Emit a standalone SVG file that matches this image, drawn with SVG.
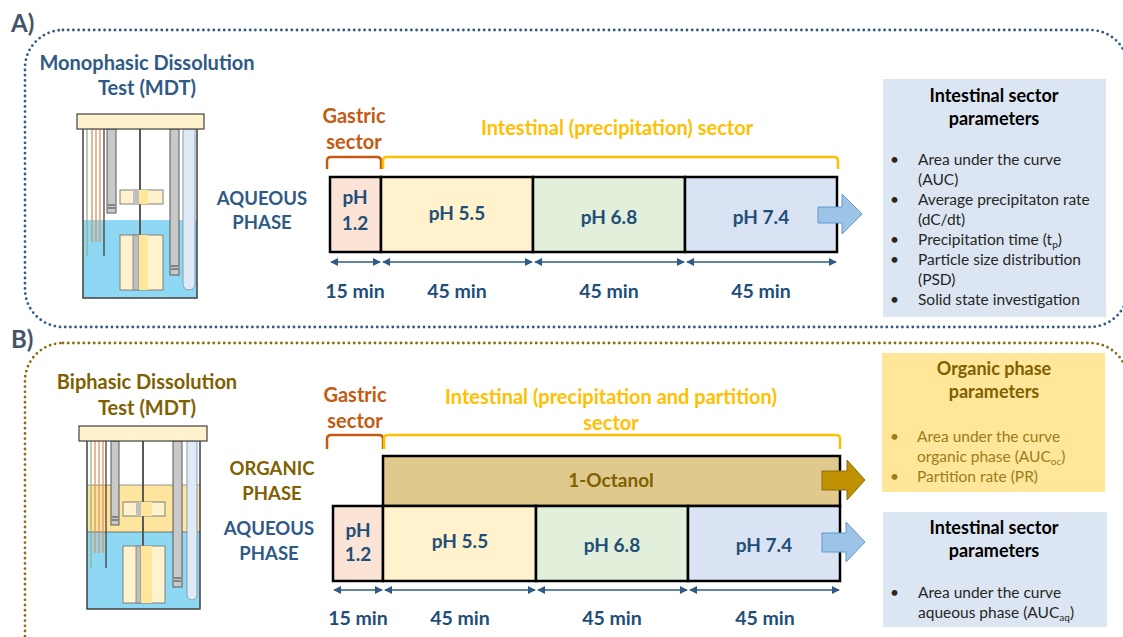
<svg xmlns="http://www.w3.org/2000/svg" width="1123" height="637" viewBox="0 0 1123 637">
  <style>
    text { font-family: Lato, "Open Sans", "Liberation Sans", sans-serif; font-weight: bold; }
    .lbl { font-size: 24px; fill: #44546a; }
    .blue { fill: #2f5a85; }
    .olive { fill: #806000; }
    .head { font-size: 20px; text-anchor: middle; }
    .phase { font-size: 18.5px; text-anchor: middle; }
    .ph { font-size: 19px; fill: #1f4e79; text-anchor: middle; }
    .min { font-size: 19.5px; fill: #1f4e79; text-anchor: middle; }
    .gas { font-size: 20px; fill: #c55a11; text-anchor: middle; }
    .int { font-size: 20px; fill: #ffc000; text-anchor: middle; }
    .ptitle { font-size: 18px; text-anchor: middle; fill: #000; }
    .bul text { font-size: 15.5px; font-weight: normal; fill: #262626; }
    .bulo text { font-size: 15.5px; font-weight: normal; fill: #9c7c1c; }
    .seg { stroke: #000; stroke-width: 2.5; }
    .dotA { fill: none; stroke: #2f5a85; stroke-width: 2.8; stroke-dasharray: 0 5.2; stroke-linecap: round; }
    .dotB { fill: none; stroke: #8b6b14; stroke-width: 2.8; stroke-dasharray: 0 5.2; stroke-linecap: round; }
    .dim { stroke: #2f5a85; stroke-width: 1.6; marker-start: url(#ah); marker-end: url(#ah); }
    .brG { fill: none; stroke: #c55a11; stroke-width: 2.5; }
    .brI { fill: none; stroke: #ffc000; stroke-width: 2.5; }
    .wall { fill: none; stroke: #404040; stroke-width: 1.5; }
    .lid { fill: #fff2cc; stroke: #404040; stroke-width: 1.2; }
    .blade { fill: #fff2cc; stroke: #7f7f7f; stroke-width: 1; }
    .tube { fill: #c9c9c9; stroke: #595959; stroke-width: 1; }
    .ltube { fill: #deebf7; stroke: #8a9bb0; stroke-width: 1; }
  </style>
  <defs>
    <marker id="ah" viewBox="0 0 10 10" refX="9" refY="5" markerWidth="5" markerHeight="5" orient="auto-start-reverse" markerUnits="strokeWidth">
      <path d="M0,0 L10,5 L0,10 z" fill="#2f5a85"/>
    </marker>
  </defs>

  <rect width="1123" height="637" fill="#ffffff"/>

  <!-- panel frames -->
  <rect class="dotA" x="25" y="30" width="1103" height="297" rx="38"/>
  <rect class="dotB" x="25" y="343" width="1103" height="330" rx="38"/>
  <text class="lbl" x="11" y="32">A)</text>
  <text class="lbl" x="11" y="348">B)</text>

  <!-- ===== Panel A ===== -->
  <g id="mdt-title">
    <text class="head blue" x="147" y="70">Monophasic Dissolution</text>
    <text class="head blue" x="147" y="95">Test (MDT)</text>
  </g>

  <g id="mdt-vessel">
    <rect x="83" y="220" width="114" height="78" fill="#8fd8f3"/>
    <path class="wall" d="M83,129 V298 H197 V129"/>
    <line x1="87" y1="129" x2="87" y2="256" stroke="#8fb48a" stroke-width="1.3"/>
    <line x1="92" y1="129" x2="92" y2="242" stroke="#e0915a" stroke-width="1.3"/>
    <line x1="96" y1="129" x2="96" y2="242" stroke="#e0915a" stroke-width="1.3"/>
    <line x1="100" y1="129" x2="100" y2="242" stroke="#e0915a" stroke-width="1.3"/>
    <line x1="104" y1="129" x2="104" y2="256" stroke="#404040" stroke-width="1.3"/>
    <rect class="tube" x="107" y="129" width="9" height="84"/>
    <line x1="108" y1="205" x2="115" y2="205" stroke="#404040" stroke-width="1"/>
    <line x1="108" y1="208" x2="115" y2="208" stroke="#404040" stroke-width="1"/>
    <line x1="140" y1="129" x2="140" y2="236" stroke="#595959" stroke-width="2"/>
    <rect class="blade" x="120" y="190" width="43" height="14"/>
    <rect x="133" y="190" width="6" height="14" fill="#bfbfbf"/>
    <rect x="139" y="190" width="9" height="14" fill="#ffe699"/>
    <rect class="blade" x="120" y="235" width="43" height="55"/>
    <rect x="133" y="235" width="6" height="55" fill="#bfbfbf" stroke="#7f7f7f" stroke-width="0.8"/>
    <rect x="139" y="235" width="9" height="55" fill="#ffe699"/>
    <rect class="tube" x="170" y="129" width="9" height="146"/>
    <line x1="171" y1="266" x2="178" y2="266" stroke="#404040" stroke-width="1"/>
    <line x1="171" y1="269" x2="178" y2="269" stroke="#404040" stroke-width="1"/>
    <path class="ltube" d="M183,129 V284 A6,6 0 0 0 195,284 V129 Z"/>
    <rect class="lid" x="77" y="114" width="127" height="15"/>
  </g>

  <g id="aqueous-label-a">
    <text class="phase blue" x="262" y="205">AQUEOUS</text>
    <text class="phase blue" x="262" y="229">PHASE</text>
  </g>

  <g id="sectors-a">
    <text class="gas" x="354" y="123">Gastric</text>
    <text class="gas" x="354" y="149">sector</text>
    <path class="brG" d="M327,169 V161 Q327,157 331,157 H377 Q381,157 381,161 V169"/>
    <text class="int" x="617" y="135">Intestinal (precipitation) sector</text>
    <path class="brI" d="M383,169 V161 Q383,157 387,157 H834 Q838,157 838,161 V169"/>
  </g>

  <g id="timeline-a">
    <rect class="seg" x="330" y="177" width="51" height="75" fill="#fbe3d6"/>
    <rect class="seg" x="381" y="177" width="152" height="75" fill="#fff2cc"/>
    <rect class="seg" x="533" y="177" width="152" height="75" fill="#e2efda"/>
    <rect class="seg" x="685" y="177" width="152" height="75" fill="#dae3f3"/>
    <text class="ph" x="355" y="204">pH</text>
    <text class="ph" x="355" y="230">1.2</text>
    <text class="ph" x="457" y="220">pH 5.5</text>
    <text class="ph" x="609" y="224">pH 6.8</text>
    <text class="ph" x="761" y="224">pH 7.4</text>
    <polygon points="818,207 842,207 842,194 862,214 842,234 842,223 818,223" fill="#9dc3e6" stroke="#5b9bd5" stroke-width="1"/>
  </g>

  <g id="durations-a">
    <line class="dim" x1="331" y1="262" x2="380" y2="262"/>
    <line class="dim" x1="383" y1="262" x2="532" y2="262"/>
    <line class="dim" x1="535" y1="262" x2="684" y2="262"/>
    <line class="dim" x1="687" y1="262" x2="836" y2="262"/>
    <text class="min" x="355" y="298">15 min</text>
    <text class="min" x="457" y="298">45 min</text>
    <text class="min" x="609" y="298">45 min</text>
    <text class="min" x="761" y="298">45 min</text>
  </g>

  <g id="params-a">
    <rect x="883" y="79" width="223" height="238" fill="#dce6f2"/>
    <text class="ptitle" x="994" y="102">Intestinal sector</text>
    <text class="ptitle" x="994" y="125">parameters</text>
    <g class="bul">
      <text x="890" y="165">•</text>
      <text x="918" y="165">Area under the curve</text>
      <text x="918" y="185">(AUC)</text>
      <text x="890" y="205">•</text>
      <text x="918" y="205">Average precipitaton rate</text>
      <text x="918" y="225">(dC/dt)</text>
      <text x="890" y="245">•</text>
      <text x="918" y="245">Precipitation time (t<tspan font-size="10" dy="3">p</tspan><tspan dy="-3">)</tspan></text>
      <text x="890" y="265">•</text>
      <text x="918" y="265">Particle size distribution</text>
      <text x="918" y="285">(PSD)</text>
      <text x="890" y="305">•</text>
      <text x="918" y="305">Solid state investigation</text>
    </g>
  </g>

  <!-- ===== Panel B ===== -->
  <g id="bdt-title">
    <text class="head olive" x="147" y="389">Biphasic Dissolution</text>
    <text class="head olive" x="147" y="415">Test (MDT)</text>
  </g>

  <g id="bdt-vessel">
    <rect x="87" y="485" width="113" height="47" fill="#fde59e"/>
    <rect x="87" y="532" width="113" height="77" fill="#8fd8f3"/>
    <line x1="87" y1="485" x2="200" y2="485" stroke="#7f7f7f" stroke-width="0.8"/>
    <line x1="87" y1="532" x2="200" y2="532" stroke="#595959" stroke-width="0.8"/>
    <path class="wall" d="M87,441 V609 H200 V441"/>
    <line x1="91" y1="441" x2="91" y2="568" stroke="#8fb48a" stroke-width="1.3"/>
    <line x1="95" y1="441" x2="95" y2="553" stroke="#e0915a" stroke-width="1.3"/>
    <line x1="99" y1="441" x2="99" y2="553" stroke="#e0915a" stroke-width="1.3"/>
    <line x1="103" y1="441" x2="103" y2="553" stroke="#e0915a" stroke-width="1.3"/>
    <line x1="106" y1="441" x2="106" y2="568" stroke="#404040" stroke-width="1.3"/>
    <rect class="tube" x="111" y="441" width="8" height="84"/>
    <line x1="112" y1="517" x2="118" y2="517" stroke="#404040" stroke-width="1"/>
    <line x1="112" y1="520" x2="118" y2="520" stroke="#404040" stroke-width="1"/>
    <line x1="143" y1="441" x2="143" y2="547" stroke="#595959" stroke-width="2"/>
    <rect class="blade" x="123" y="502" width="42" height="14"/>
    <rect x="136" y="502" width="5" height="14" fill="#bfbfbf"/>
    <rect x="141" y="502" width="11" height="14" fill="#ffe699"/>
    <rect class="blade" x="123" y="546" width="42" height="57"/>
    <rect x="136" y="546" width="5" height="57" fill="#bfbfbf" stroke="#7f7f7f" stroke-width="0.8"/>
    <rect x="141" y="546" width="11" height="57" fill="#ffe699"/>
    <rect class="tube" x="173" y="441" width="9" height="146"/>
    <line x1="174" y1="578" x2="181" y2="578" stroke="#404040" stroke-width="1"/>
    <line x1="174" y1="581" x2="181" y2="581" stroke="#404040" stroke-width="1"/>
    <path class="ltube" d="M187,441 V595 A5,5 0 0 0 197,595 V441 Z"/>
    <rect class="lid" x="79" y="426" width="128" height="15"/>
  </g>

  <g id="phase-labels-b">
    <text class="phase olive" x="272" y="475">ORGANIC</text>
    <text class="phase olive" x="272" y="500">PHASE</text>
    <text class="phase blue" x="269" y="535">AQUEOUS</text>
    <text class="phase blue" x="269" y="560">PHASE</text>
  </g>

  <g id="sectors-b">
    <text class="gas" x="355" y="402">Gastric</text>
    <text class="gas" x="355" y="428">sector</text>
    <path class="brG" d="M327,449 V439 Q327,435 331,435 H379 Q383,435 383,439 V449"/>
    <text class="int" x="611" y="404">Intestinal (precipitation and partition)</text>
    <text class="int" x="611" y="430">sector</text>
    <path class="brI" d="M384,449 V439 Q384,435 388,435 H836 Q840,435 840,439 V449"/>
  </g>

  <g id="timeline-b">
    <rect class="seg" x="383" y="456" width="457" height="50" fill="#dfc98d"/>
    <text x="611" y="487" font-size="19" fill="#806000" text-anchor="middle">1-Octanol</text>
    <polygon points="822,471 847,471 847,460 865,480 847,500 847,490 822,490" fill="#bf9000" stroke="#8b6b14" stroke-width="1"/>
    <rect class="seg" x="333" y="506" width="50" height="75" fill="#fbe3d6"/>
    <rect class="seg" x="383" y="506" width="153" height="75" fill="#fff2cc"/>
    <rect class="seg" x="536" y="506" width="152" height="75" fill="#e2efda"/>
    <rect class="seg" x="688" y="506" width="152" height="75" fill="#dae3f3"/>
    <text class="ph" x="358" y="537">pH</text>
    <text class="ph" x="358" y="561">1.2</text>
    <text class="ph" x="460" y="548">pH 5.5</text>
    <text class="ph" x="612" y="552">pH 6.8</text>
    <text class="ph" x="764" y="552">pH 7.4</text>
    <polygon points="822,533 846,533 846,522 865,542 846,562 846,552 822,552" fill="#9dc3e6" stroke="#5b9bd5" stroke-width="1"/>
  </g>

  <g id="durations-b">
    <line class="dim" x1="334" y1="590" x2="382" y2="590"/>
    <line class="dim" x1="385" y1="590" x2="535" y2="590"/>
    <line class="dim" x1="538" y1="590" x2="687" y2="590"/>
    <line class="dim" x1="690" y1="590" x2="839" y2="590"/>
    <text class="min" x="358" y="625">15 min</text>
    <text class="min" x="460" y="625">45 min</text>
    <text class="min" x="612" y="625">45 min</text>
    <text class="min" x="765" y="625">45 min</text>
  </g>

  <g id="params-organic">
    <rect x="882" y="353" width="223" height="139" fill="#ffe699"/>
    <text class="ptitle" x="994" y="375" style="fill:#806000">Organic phase</text>
    <text class="ptitle" x="994" y="398" style="fill:#806000">parameters</text>
    <g class="bulo">
      <text x="890" y="442">•</text>
      <text x="917" y="442">Area under the curve</text>
      <text x="917" y="462">organic phase (AUC<tspan font-size="10" dy="3">oc</tspan><tspan dy="-3">)</tspan></text>
      <text x="890" y="482">•</text>
      <text x="917" y="482">Partition rate (PR)</text>
    </g>
  </g>

  <g id="params-b">
    <rect x="883" y="512" width="224" height="115" fill="#dce6f2"/>
    <text class="ptitle" x="994" y="534">Intestinal sector</text>
    <text class="ptitle" x="994" y="557">parameters</text>
    <g class="bul">
      <text x="890" y="598">•</text>
      <text x="918" y="598">Area under the curve</text>
      <text x="918" y="618">aqueous phase (AUC<tspan font-size="10" dy="3">aq</tspan><tspan dy="-3">)</tspan></text>
    </g>
  </g>
</svg>
